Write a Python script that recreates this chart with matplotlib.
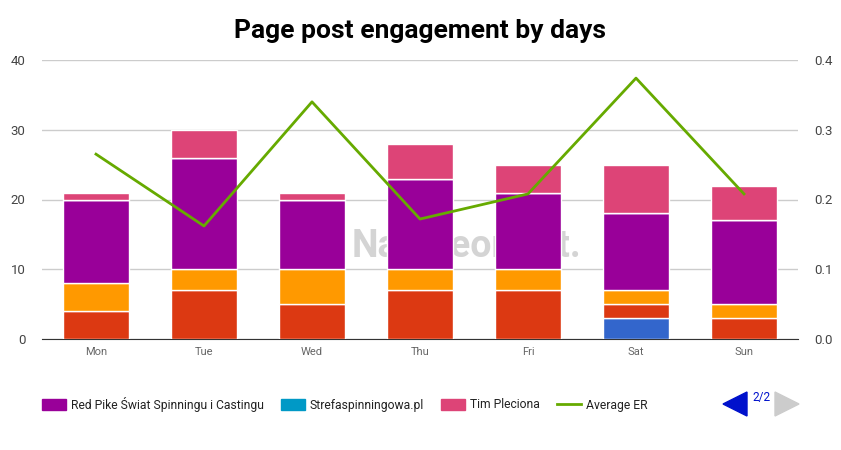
import matplotlib
matplotlib.use("Agg")
import matplotlib.pyplot as plt
import numpy as np
from matplotlib.patches import Patch, Polygon
from matplotlib.lines import Line2D

plt.rcParams['font.family'] = ['Roboto', 'DejaVu Sans']

days = ["Mon", "Tue", "Wed", "Thu", "Fri", "Sat", "Sun"]
# stacked series in bottom-to-top order
blue_vals = [0, 0, 0, 0, 0, 3, 0]
red_vals = [4, 7, 5, 7, 7, 2, 3]
orange_vals = [4, 3, 5, 3, 3, 2, 2]
purple_vals = [12, 16, 10, 13, 11, 11, 12]
teal_vals = [0, 0, 0, 0, 0, 0, 0]
pink_vals = [1, 4, 1, 5, 4, 7, 5]
avg_er = [0.265, 0.162, 0.340, 0.172, 0.208, 0.374, 0.208]
legend_labels = ["Red Pike Świat Spinningu i Castingu", "Strefaspinningowa.pl", "Tim Pleciona", "Average ER"]

colors = ["#3366cc", "#dc3912", "#ff9900", "#990099", "#0099c6", "#dd4477"]
line_color = "#66aa00"

fig = plt.figure(figsize=(8.41, 4.5), dpi=100)
ax = fig.add_axes([42/841, 1-339/450, 756/841, 279/450])
ax2 = ax.twinx()

x = np.arange(len(days))
stack = [blue_vals, red_vals, orange_vals, purple_vals, teal_vals, pink_vals]
bottom = np.zeros(len(days))
for vals, c in zip(stack, colors):
    v = np.array(vals, dtype=float)
    ax.bar(x, v, bottom=bottom, width=0.61, color=c, edgecolor="white", linewidth=1, zorder=3)
    bottom += v

ax.set_ylim(0, 40)
ax.set_xlim(-0.5, 6.5)
ax.set_yticks([0, 10, 20, 30, 40])
ax.grid(axis='y', color="#cccccc", linewidth=1, zorder=0)
ax.set_axisbelow(True)
ax.set_xticks(x)
ax.set_xticklabels(days)
for s in ["top", "left", "right"]:
    ax.spines[s].set_visible(False)
ax.spines["bottom"].set_color("#333333")
ax.tick_params(axis='both', length=0)
ax.tick_params(axis='y', labelsize=9.5, colors="#444444", pad=12)
ax.tick_params(axis='x', labelsize=8, colors="#666666", pad=6)

# watermark
ax.text(3.43, 13.2, "NapoleonCat.", fontsize=27, fontweight='bold', color="#d4d4d4",
        ha='center', va='center', zorder=1)

ax2.plot(x, avg_er, color=line_color, linewidth=2, zorder=5)
ax2.set_ylim(0, 0.4)
ax2.set_yticks([0.0, 0.1, 0.2, 0.3, 0.4])
ax2.set_yticklabels(["0.0", "0.1", "0.2", "0.3", "0.4"])
for s in ["top", "left", "right", "bottom"]:
    ax2.spines[s].set_visible(False)
ax2.tick_params(axis='y', length=0, labelsize=9.5, colors="#444444", pad=12)

fig.suptitle("Page post engagement by days", x=420/841, y=1-31/450, va='center',
             fontsize=19, fontweight='bold', color="#000000")

handles = [Patch(color=colors[3]), Patch(color=colors[4]), Patch(color=colors[5]),
           Line2D([0], [0], color=line_color, linewidth=2)]
fig.legend(handles, legend_labels, loc='center left', bbox_to_anchor=(42/841, 1-404/450), ncol=4,
           frameon=False, fontsize=8.7, handlelength=1.98, handleheight=1.0,
           columnspacing=1.45, handletextpad=0.38, labelcolor="#222222",
           borderpad=0, borderaxespad=0)

# pager arrows
fig.patches.append(Polygon([[723/841, 1-404/450], [747/841, 1-392/450], [747/841, 1-416/450]],
                           closed=True, transform=fig.transFigure, color="#0011cc"))
fig.patches.append(Polygon([[799/841, 1-404/450], [775/841, 1-392/450], [775/841, 1-416/450]],
                           closed=True, transform=fig.transFigure, color="#cccccc"))
fig.text(761.5/841, 1-397/450, "2/2", fontsize=8.5, color="#0011cc", ha='center', va='center')

fig.savefig("out.png", dpi=100)
